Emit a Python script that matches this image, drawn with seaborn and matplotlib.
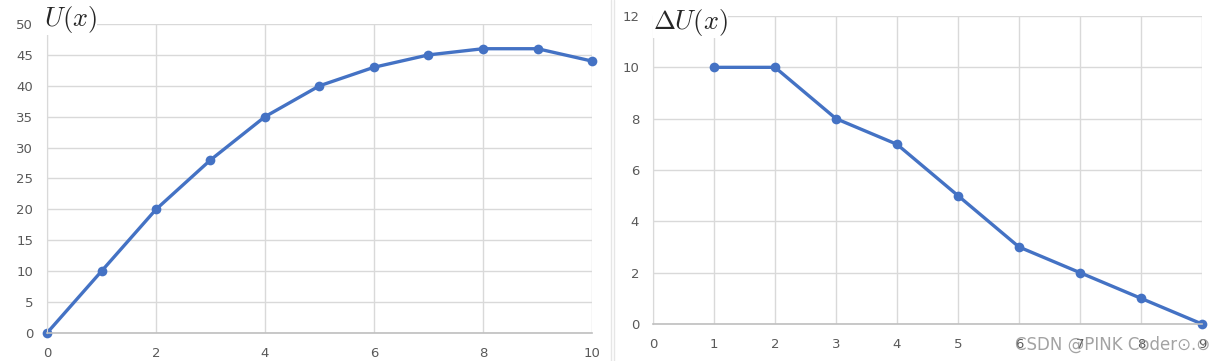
import numpy as np
import pandas as pd
import matplotlib
matplotlib.use("Agg")
import matplotlib.pyplot as plt
from matplotlib.lines import Line2D
import seaborn as sns

# datos
x_u = [0, 1, 2, 3, 4, 5, 6, 7, 8, 9, 10]
u_vals = [0, 10, 20, 28, 35, 40, 43, 45, 46, 46, 44]
x_du = [1, 2, 3, 4, 5, 6, 7, 8, 9]
du_vals = [10, 10, 8, 7, 5, 3, 2, 1, 0]

azul = "#4472C4"
gris_txt = "#595959"
gris_grid = "#d9d9d9"

sns.set_style("white")
plt.rcParams["font.family"] = ["DejaVu Sans"]
plt.rcParams["mathtext.fontset"] = "cm"

df_u = pd.DataFrame({"x": x_u, "U": u_vals})
df_du = pd.DataFrame({"x": x_du, "dU": du_vals})

fig = plt.figure(figsize=(12.24, 3.61), dpi=100)
ax1 = fig.add_axes([47 / 1224, 1 - 333 / 361, 545 / 1224, 309 / 361])
ax2 = fig.add_axes([653 / 1224, 1 - 324 / 361, 549 / 1224, 308 / 361])


def estilo(ax):
    ax.grid(True, color=gris_grid, linewidth=1)
    ax.set_axisbelow(True)
    for s in ["top", "right"]:
        ax.spines[s].set_visible(False)
    ax.spines["left"].set_color(gris_grid)
    ax.spines["bottom"].set_color("#bfbfbf")
    ax.spines["bottom"].set_linewidth(1.2)
    ax.tick_params(length=0, colors=gris_txt, labelsize=9.5, pad=10)
    ax.set_xlabel("")
    ax.set_ylabel("")


# 1) U(x)
sns.lineplot(data=df_u, x="x", y="U", ax=ax1, color=azul, linewidth=2.4,
             marker="o", markersize=7, markeredgewidth=0, clip_on=False)
ax1.set_xlim(0, 10)
ax1.set_ylim(0, 50)
ax1.set_xticks(np.arange(0, 11, 2))
ax1.set_yticks(np.arange(0, 51, 5))
estilo(ax1)

# 2) Delta U(x)
sns.lineplot(data=df_du, x="x", y="dU", ax=ax2, color=azul, linewidth=2.4,
             marker="o", markersize=7, markeredgewidth=0, clip_on=False)
ax2.set_xlim(0, 9)
ax2.set_ylim(0, 12)
ax2.set_xticks(np.arange(0, 10, 1))
ax2.set_yticks(np.arange(0, 13, 2))
estilo(ax2)

# titulos (con fondo blanco, tapan la rejilla como en el original)
fig.text(44 / 1224, 1 - 4 / 361, r"$U(x)$", fontsize=19, va="top", ha="left",
         bbox=dict(facecolor="white", edgecolor="none", pad=0))
fig.text(653 / 1224, 1 - 7 / 361, r"$\Delta U(x)$", fontsize=19, va="top", ha="left",
         bbox=dict(facecolor="white", edgecolor="none", pad=0))

# separador entre paneles
for xs in [611, 614]:
    fig.add_artist(Line2D([xs / 1224, xs / 1224], [0, 1], color="#e6e6e6", linewidth=1))

# marca de agua
fig.text(1210 / 1224, 1 - 345 / 361, "CSDN @PINK Coder⊙.⊙", fontsize=12,
         color="#8c8c8c", alpha=0.8, ha="right", va="center")

plt.savefig("out.png", dpi=100)
plt.close()
